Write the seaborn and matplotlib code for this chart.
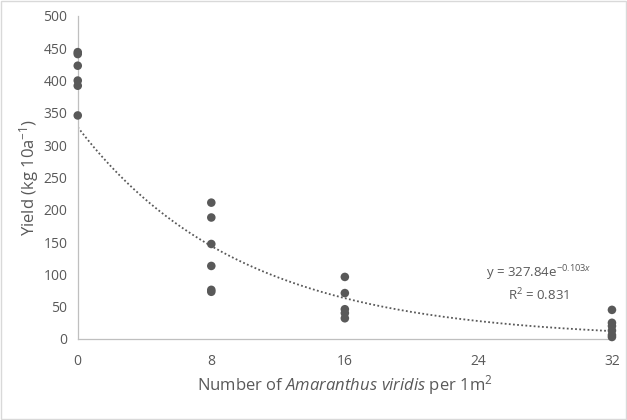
import matplotlib
matplotlib.use("Agg")
import matplotlib.pyplot as plt
import numpy as np
import pandas as pd
import seaborn as sns

# weed density groups and yields
density_0 = [444, 441, 423, 400, 392, 346]
density_8 = [211, 188, 147, 113, 76, 73]
density_16 = [96, 71, 46, 40, 32]
density_32 = [45, 25, 20, 13, 6, 3]

# exponential trendline as printed on the chart
trend_a = 327.84
trend_b = -0.103
trend_r2 = 0.831

x_ticks = [0, 8, 16, 24, 32]
y_ticks = [0, 50, 100, 150, 200, 250, 300, 350, 400, 450, 500]

rows = []
for dens, vals in [(0, density_0), (8, density_8), (16, density_16), (32, density_32)]:
    for v in vals:
        rows.append({"density": dens, "yield": v})
df = pd.DataFrame(rows)

sns.set_style("white")
plt.rcParams["font.family"] = ["Open Sans", "DejaVu Sans"]
plt.rcParams["mathtext.fontset"] = "custom"
plt.rcParams["mathtext.rm"] = "Open Sans"
plt.rcParams["mathtext.it"] = "Open Sans:italic"

grey_text = "#595959"
axis_grey = "#bfbfbf"

fig = plt.figure(figsize=(6.27, 4.2), dpi=100)
ax = fig.add_axes([0.124, 0.193, 0.852, 0.769])

xs = np.linspace(0, 32, 200)
ax.plot(xs, trend_a * np.exp(trend_b * xs), linestyle=(0, (1, 1.3)), color="#595959",
        linewidth=1.3, zorder=1)

sns.scatterplot(data=df, x="density", y="yield", ax=ax, color="#595959", s=38,
                edgecolor="none", zorder=3, legend=False, clip_on=False)

ax.set_xlim(0, 32)
ax.set_ylim(0, 500)
ax.set_xticks(x_ticks)
ax.set_yticks(y_ticks)
ax.tick_params(axis="both", colors=axis_grey, labelcolor=grey_text, labelsize=10,
               length=4, width=0.8, direction="out")
ax.tick_params(axis="x", pad=7)

for side in ["top", "right"]:
    ax.spines[side].set_visible(False)
for side in ["left", "bottom"]:
    ax.spines[side].set_color(axis_grey)
    ax.spines[side].set_linewidth(0.9)

ax.set_xlabel(r"Number of $\mathit{Amaranthus\ viridis}$ per 1m$^{2}$",
              color=grey_text, fontsize=12, labelpad=3)
ax.set_ylabel(r"Yield (kg 10a$^{-1}$)", color=grey_text, fontsize=12, labelpad=2)

ax.text(30.8, 86, f"y = {trend_a}e$^{{{trend_b}x}}$\nR$^{{2}}$ = {trend_r2}",
        ha="right", va="center", color=grey_text, fontsize=9.5, multialignment="center",
        linespacing=1.3)

fig.patches.append(plt.Rectangle((0.002, 0.002), 0.996, 0.995, transform=fig.transFigure,
                                 fill=False, edgecolor="#d9d9d9", linewidth=1))

fig.savefig("out.png", dpi=100)
